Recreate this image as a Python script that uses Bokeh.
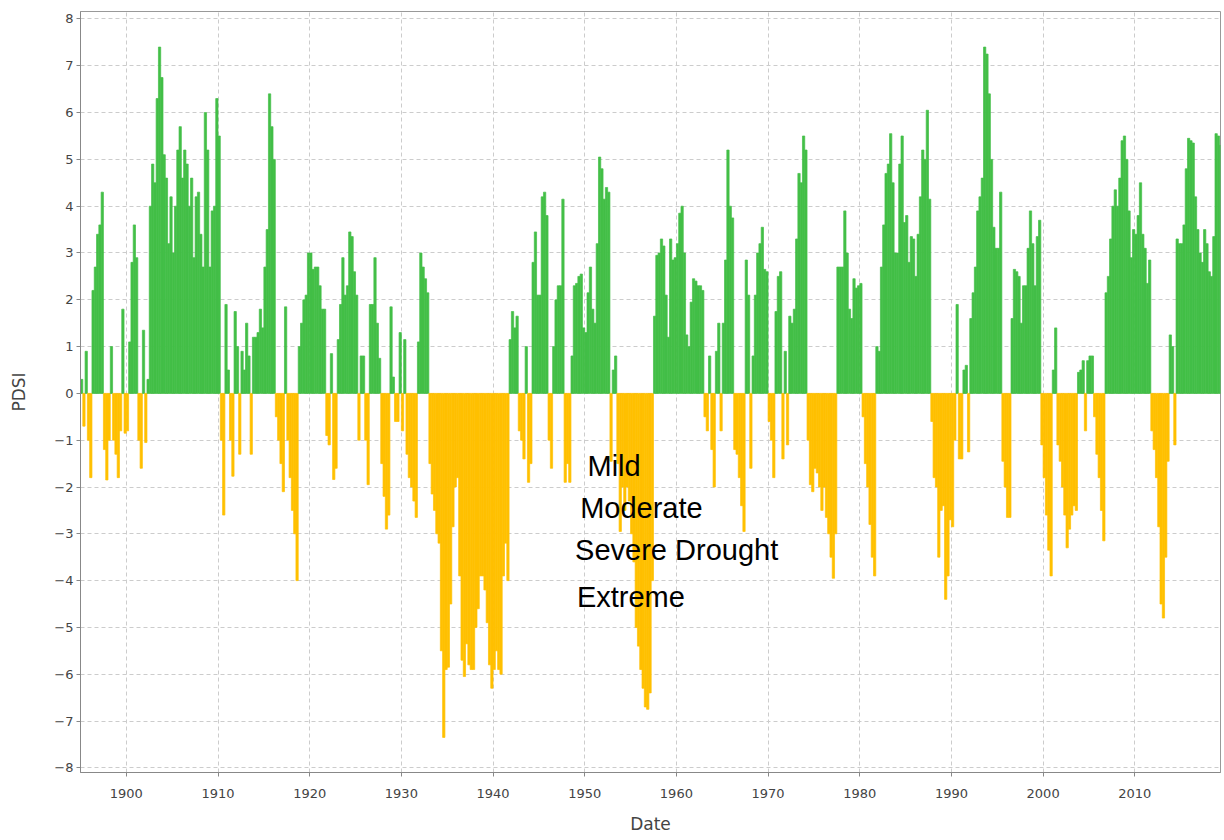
from bokeh.plotting import figure
from bokeh.models import ColumnDataSource, Range1d, FixedTicker, Label
from bokeh.embed import file_html
from bokeh.resources import INLINE

# ---- data: quarterly PDSI values, 1895 Q1 onward ----
start_year = 1895
quarterly_pdsi = [
    0.3, -0.7, 0.9, -1.0,        # 1895
    -1.8, 2.2, 2.7, 3.4,         # 1896
    3.6, 4.3, -1.2, -1.85,       # 1897
    -1.0, 1.0, -1.0, -1.3,       # 1898
    -1.8, -0.8, 1.8, -0.85,      # 1899
    -0.8, 1.1, 2.8, 3.6,         # 1900
    2.9, -1.0, -1.6, 1.35,       # 1901
    -1.05, 0.3, 4.0, 4.9,        # 1902
    4.5, 6.3, 7.4, 6.75,         # 1903
    5.1, 4.6, 3.2, 4.2,          # 1904
    3.0, 4.0, 5.2, 5.7,          # 1905
    4.6, 5.2, 4.9, 4.0,          # 1906
    4.6, 2.9, 4.2, 4.3,          # 1907
    3.4, 2.7, 6.0, 5.2,          # 1908
    2.7, 3.9, 4.0, 6.3,          # 1909
    5.5, -1.0, -2.6, 1.9,        # 1910
    0.5, -1.0, -1.77, 1.75,      # 1911
    1.0, -1.3, 0.9, 0.5,         # 1912
    1.5, 0.8, -1.3, 1.2,         # 1913
    1.2, 1.3, 1.8, 1.4,          # 1914
    2.7, 3.5, 6.4, 5.7,          # 1915
    5.0, -0.5, -1.0, -1.5,       # 1916
    -2.1, 1.85, -1.0, -1.8,      # 1917
    -2.5, -3.0, -4.0, 1.0,       # 1918
    1.5, 2.0, 2.1, 3.0,          # 1919
    3.0, 2.65, 2.7, 2.7,         # 1920
    2.3, 1.8, 1.8, -0.9,         # 1921
    -1.1, 0.85, -1.84, -1.6,     # 1922
    1.15, 1.9, 2.9, 2.1,         # 1923
    2.3, 3.45, 3.35, 2.6,        # 1924
    2.1, -1.0, 0.8, 0.8,         # 1925
    -1.0, -1.95, 1.9, 1.9,       # 1926
    2.9, 1.5, 0.75, -1.5,        # 1927
    -2.2, -2.9, -2.6, 1.85,      # 1928
    0.35, -0.6, -0.6, 1.3,       # 1929
    -0.8, 1.15, -1.3, -1.8,      # 1930
    -2.0, -2.3, -2.65, 1.1,      # 1931
    3.0, 2.7, 2.45, 2.15,        # 1932
    -1.5, -2.15, -2.5, -3.0,     # 1933
    -3.2, -5.5, -7.35, -5.9,     # 1934
    -5.85, -4.5, -2.85, -2.0,    # 1935
    -1.8, -3.9, -5.7, -6.05,     # 1936
    -5.35, -5.8, -5.9, -5.9,     # 1937
    -5.0, -4.6, -3.9, -3.9,      # 1938
    -4.2, -4.9, -5.8, -6.3,      # 1939
    -5.9, -5.5, -5.9, -6.0,      # 1940
    -3.9, -3.2, -4.0, 1.15,      # 1941
    1.75, 1.4, 1.65, -0.8,       # 1942
    -1.0, -1.4, 1.0, -1.9,       # 1943
    -1.5, 2.8, 3.45, 2.1,        # 1944
    2.1, 4.2, 4.3, 3.8,          # 1945
    -1.0, -1.6, 1.0, 2.0,        # 1946
    2.3, 2.3, 4.15, -1.9,        # 1947
    -1.5, -1.9, 0.8, 2.3,        # 1948
    2.35, 2.5, 2.55, 1.4,        # 1949
    1.3, 2.15, 2.7, 1.8,         # 1950
    1.5, 3.2, 5.05, 4.8,         # 1951
    4.15, 4.4, 4.3, -1.45,       # 1952
    0.5, 0.8, -1.5, -2.95,       # 1953
    -2.0, -2.5, -2.0, -2.3,      # 1954
    -3.0, -3.6, -5.0, -5.4,      # 1955
    -5.9, -6.3, -6.7, -6.75,     # 1956
    -6.4, -4.0, 1.65, 2.95,      # 1957
    3.0, 3.3, 3.15, 2.1,         # 1958
    1.2, 3.3, 2.85, 2.9,         # 1959
    3.2, 3.85, 4.0, 3.0,         # 1960
    1.25, 1.0, 1.95, 2.45,       # 1961
    2.4, 2.3, 2.3, 2.2,          # 1962
    -0.5, -0.8, 0.8, -1.2,       # 1963
    -2.0, 0.9, 1.5, -0.8,        # 1964
    1.5, 2.85, 5.2, 4.0,         # 1965
    3.75, -1.2, -1.3, -1.8,      # 1966
    -2.4, -2.95, 2.85, 2.1,      # 1967
    -1.6, 0.8, 2.1, 3.0,         # 1968
    3.2, 3.55, 2.65, 2.6,        # 1969
    -0.6, -1.0, -1.8, 1.75,      # 1970
    2.5, 2.6, -1.4, 0.9,         # 1971
    -1.1, 1.65, 1.5, 1.8,        # 1972
    3.3, 4.7, 4.5, 5.5,          # 1973
    5.2, -1.0, -1.95, -2.1,      # 1974
    -1.6, -1.7, -2.0, -2.5,      # 1975
    -2.0, -2.65, -3.0, -3.5,     # 1976
    -3.95, -3.0, 2.7, 2.7,       # 1977
    2.7, 3.9, 3.0, 1.8,          # 1978
    1.6, 2.45, 2.25, 2.3,        # 1979
    2.35, -0.5, -1.5, -2.0,      # 1980
    -2.8, -3.5, -3.9, 1.0,       # 1981
    0.9, 2.7, 3.6, 4.7,          # 1982
    4.9, 5.55, 4.5, 3.0,         # 1983
    3.0, 4.9, 5.5, 3.65,         # 1984
    3.8, 2.8, 3.35, 3.3,         # 1985
    2.5, 3.4, 4.2, 5.2,          # 1986
    5.0, 6.05, 4.15, -0.6,       # 1987
    -1.8, -2.0, -3.5, -2.5,      # 1988
    -2.4, -4.4, -3.9, -2.7,      # 1989
    -2.85, -1.0, 1.9, -1.4,      # 1990
    -1.4, 0.5, 0.6, -1.25,       # 1991
    1.6, 2.15, 2.7, 3.9,         # 1992
    4.2, 4.6, 7.4, 7.25,         # 1993
    6.4, 5.0, 3.55, 3.1,         # 1994
    3.1, 4.3, -1.45, -2.0,       # 1995
    -2.65, -2.65, 1.6, 2.65,     # 1996
    2.6, 2.5, 1.5, 2.3,          # 1997
    2.3, 3.1, 3.9, 3.2,          # 1998
    2.3, 3.35, 3.7, -1.1,        # 1999
    -1.8, -2.6, -3.35, -3.9,     # 2000
    0.5, 1.4, -1.1, -1.45,       # 2001
    -2.0, -2.6, -3.3, -2.9,      # 2002
    -2.6, -2.4, -2.5, 0.45,      # 2003
    0.5, 0.7, -0.8, 0.7,         # 2004
    0.8, 0.8, -0.5, -1.3,        # 2005
    -1.8, -2.5, -3.15, 2.15,     # 2006
    2.5, 3.3, 4.0, 4.35,         # 2007
    4.0, 4.6, 5.4, 5.5,          # 2008
    5.0, 3.9, 2.9, 3.5,          # 2009
    3.4, 3.8, 4.5, 3.4,          # 2010
    3.1, 2.35, 2.85, -0.8,       # 2011
    -1.2, -1.8, -2.85, -4.5,     # 2012
    -4.8, -3.5, -1.45, 1.25,     # 2013
    1.0, -1.1, 3.3, 3.2,         # 2014
    3.2, 3.6, 4.8, 5.45,         # 2015
    5.4, 5.35, 4.2, 3.5,         # 2016
    3.0, 2.8, 3.5, 3.2,          # 2017
    2.6, 2.5, 3.35, 5.55,        # 2018
    5.5, 5.3,                    # 2019
]
x_ticks = [1900, 1910, 1920, 1930, 1940, 1950, 1960, 1970, 1980, 1990, 2000, 2010]
y_ticks = list(range(-8, 9))
annotations = ["Mild", "Moderate", "Severe Drought", "Extreme"]
annotation_x = [1950.3, 1949.5, 1948.95, 1949.15]
annotation_y = [-1.56, -2.44, -3.34, -4.35]

WET = "#43bf47"
DRY = "#ffc000"

step = 0.25
dates = [start_year + i * step + step / 2 for i in range(len(quarterly_pdsi))]
colors = [WET if v >= 0 else DRY for v in quarterly_pdsi]
src = ColumnDataSource(dict(x=dates, top=quarterly_pdsi, color=colors))

p = figure(width=1222, height=836, output_backend="svg", toolbar_location=None,
           x_range=Range1d(1895.0, 2019.35), y_range=Range1d(-8.1, 8.16),
           min_border_left=80, min_border_top=11, min_border_right=2, min_border_bottom=59)

p.vbar(x="x", top="top", bottom=0, width=step, fill_color="color", line_color="color",
       line_width=0.7, source=src)

p.xaxis.ticker = FixedTicker(ticks=x_ticks)
p.yaxis.ticker = FixedTicker(ticks=y_ticks)
p.xaxis.axis_label = "Date"
p.yaxis.axis_label = "PDSI"
for ax in (p.xaxis, p.yaxis):
    ax.axis_label_text_font = "DejaVu Sans"
    ax.axis_label_text_font_style = "normal"
    ax.axis_label_text_font_size = "17px"
    ax.axis_label_text_color = "#444444"
    ax.major_label_text_font = "DejaVu Sans"
    ax.major_label_text_font_size = "13px"
    ax.major_label_text_color = "#444444"
    ax.axis_line_color = "#888888"
    ax.major_tick_line_color = "#888888"
    ax.major_tick_out = 4
    ax.major_tick_in = 0
    ax.minor_tick_line_color = None
p.xaxis.axis_label_standoff = 13
p.yaxis.axis_label_standoff = 22
p.yaxis.major_label_standoff = 3
p.xaxis.major_label_standoff = 12

p.grid.grid_line_color = "#cccccc"
p.grid.grid_line_dash = "4 3"
p.grid.grid_line_width = 1
p.outline_line_color = "#999999"
p.background_fill_color = "white"
p.border_fill_color = "white"

for txt, ax_, ay_ in zip(annotations, annotation_x, annotation_y):
    p.add_layout(Label(x=ax_, y=ay_, text=txt, text_font="Liberation Sans",
                       text_font_size="29px", text_color="black",
                       text_baseline="alphabetic", text_align="left"))

open("out.html", "w").write(file_html(p, INLINE))
